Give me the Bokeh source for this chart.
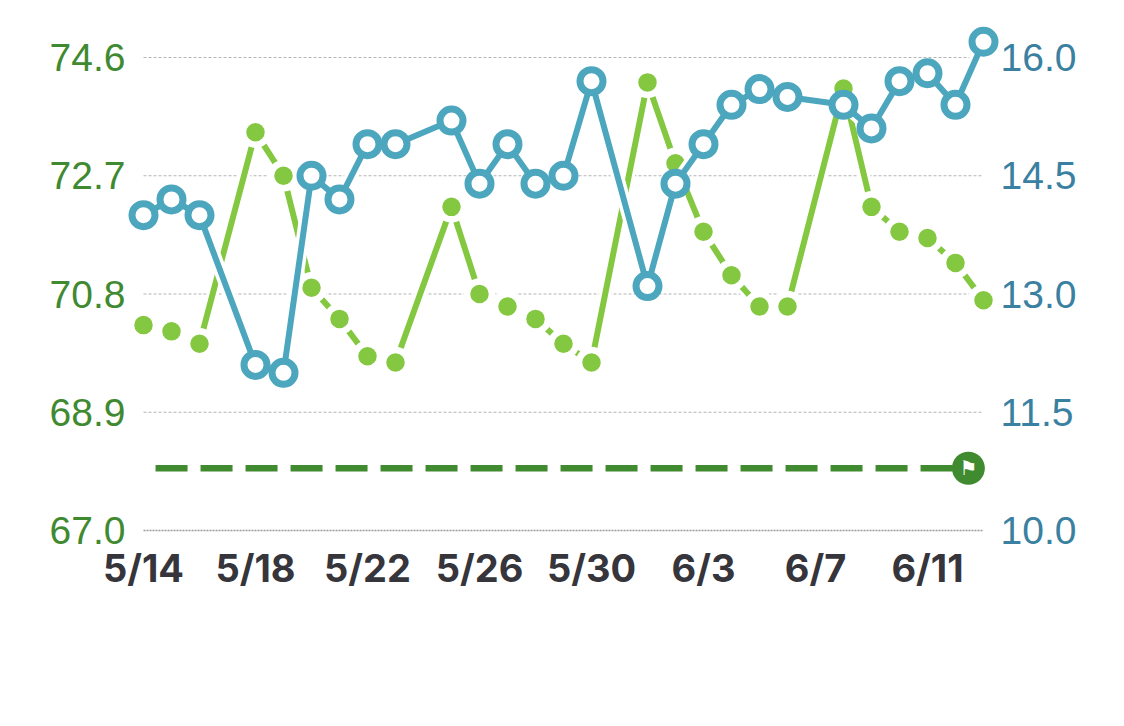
import pandas as pd
from bokeh.plotting import figure
from bokeh.models import Range1d, LinearAxis, FixedTicker, ColumnDataSource
from bokeh.core.properties import value
from bokeh.embed import file_html
from bokeh.resources import INLINE

# ---------------- data ----------------
dates = ["5/14", "5/15", "5/16", "5/18", "5/19", "5/20", "5/21", "5/22", "5/23",
         "5/25", "5/26", "5/27", "5/28", "5/29", "5/30", "6/1", "6/2", "6/3",
         "6/4", "6/5", "6/6", "6/8", "6/9", "6/10", "6/11", "6/12", "6/13"]
green_vals = [70.3, 70.2, 70.0, 73.4, 72.7, 70.9, 70.4, 69.8, 69.7,
              72.2, 70.8, 70.6, 70.4, 70.0, 69.7, 74.2, 72.9, 71.8,
              71.1, 70.6, 70.6, 74.1, 72.2, 71.8, 71.7, 71.3, 70.7]
blue_vals = [14.0, 14.2, 14.0, 12.1, 12.0, 14.5, 14.2, 14.9, 14.9,
             15.2, 14.4, 14.9, 14.4, 14.5, 15.7, 13.1, 14.4, 14.9,
             15.4, 15.6, 15.5, 15.4, 15.1, 15.7, 15.8, 15.4, 16.2]
goal_value = 68.0
x_tick_labels = ["5/14", "5/18", "5/22", "5/26", "5/30", "6/3", "6/7", "6/11"]
left_ticks = [67.0, 68.9, 70.8, 72.7, 74.6]
right_ticks = [10.0, 11.5, 13.0, 14.5, 16.0]

# ---------------- helpers ----------------
def to_day(s):
    return (pd.Timestamp("2024/" + s) - pd.Timestamp("2024/" + dates[0])).days

days = [to_day(d) for d in dates]
tick_days = [to_day(t) for t in x_tick_labels]

GREEN_LINE = "#84c841"
BLUE_LINE = "#4ba6be"
GREEN_TEXT = "#3f8a31"
BLUE_TEXT = "#3a80a1"
GOAL = "#408a2f"

# frame geometry (28 px per day)
PX_DAY = 28.0
x0 = -17 / PX_DAY
x1 = x0 + 873 / PX_DAY
lpx = 473.0 / (left_ticks[-1] - left_ticks[0])
rpx = 473.0 / (right_ticks[-1] - right_ticks[0])
yl0 = left_ticks[0] - 3 / lpx
yl1 = left_ticks[0] + 507 / lpx
yr0 = right_ticks[0] - 3 / rpx
yr1 = right_ticks[0] + 507 / rpx

p = figure(frame_width=873, frame_height=510,
           x_range=Range1d(x0, x1), y_range=Range1d(yl0, yl1),
           output_backend="svg", toolbar_location=None,
           min_border_left=126, min_border_right=100,
           min_border_top=23, min_border_bottom=165)
p.extra_y_ranges = {"r": Range1d(yr0, yr1)}
p.outline_line_color = None
p.xgrid.visible = False
p.ygrid.visible = False
p.background_fill_color = "white"
p.border_fill_color = "white"

# grid lines
p.segment(x0=[days[0]] * 4, x1=[days[-1]] * 4, y0=left_ticks[1:], y1=left_ticks[1:],
          line_color="#b4b4b4", line_width=1.2, line_dash="3 2")
p.segment(x0=[days[0]], x1=[days[-1]], y0=left_ticks[:1], y1=left_ticks[:1],
          line_color="#9a9a9a", line_width=1.6, line_dash="2 1")

# goal line
p.line(x=[days[0] + 0.43, days[-1] - 0.54], y=[goal_value, goal_value],
       line_color=GOAL, line_width=6.5, line_dash="32 13")
p.scatter(x=[days[-1] - 0.54], y=[goal_value], size=33, fill_color=GOAL, line_color=None)
p.text(x=[days[-1] - 0.54], y=[goal_value], text=["\u2691"], text_color="white",
       text_font=value("DejaVu Sans"), text_font_size="20px",
       text_align="center", text_baseline="middle")

src = ColumnDataSource(dict(x=days, g=green_vals, b=blue_vals))

# green series
p.line("x", "g", source=src, line_color="white", line_width=12)
p.line("x", "g", source=src, line_color=GREEN_LINE, line_width=6)
p.scatter("x", "g", source=src, size=25, fill_color=GREEN_LINE,
          line_color="white", line_width=6.5)

# blue series (right axis)
p.line("x", "b", source=src, y_range_name="r", line_color="white", line_width=13)
p.line("x", "b", source=src, y_range_name="r", line_color=BLUE_LINE, line_width=6)
p.scatter("x", "b", source=src, y_range_name="r", size=23, fill_color="white",
          line_color=BLUE_LINE, line_width=7)

# axes
ya = p.yaxis[0]
ya.ticker = FixedTicker(ticks=left_ticks)
ya.major_label_overrides = {t: f"{t:.1f}" for t in left_ticks}
ya.axis_line_color = None
ya.major_tick_line_color = None
ya.minor_tick_line_color = None
ya.major_tick_out = 0
ya.major_tick_in = 0
ya.major_label_standoff = 1
ya.major_label_text_font = "Liberation Sans"
ya.major_label_text_font_size = "39px"
ya.major_label_text_color = GREEN_TEXT

ra = LinearAxis(y_range_name="r", ticker=FixedTicker(ticks=right_ticks))
ra.major_label_overrides = {t: f"{t:.1f}" for t in right_ticks}
ra.axis_line_color = None
ra.major_tick_line_color = None
ra.minor_tick_line_color = None
ra.major_tick_out = 0
ra.major_tick_in = 0
ra.major_label_standoff = 1
ra.major_label_text_font = "Liberation Sans"
ra.major_label_text_font_size = "39px"
ra.major_label_text_color = BLUE_TEXT
p.add_layout(ra, "right")

xa = p.xaxis[0]
xa.ticker = FixedTicker(ticks=tick_days)
xa.major_label_overrides = {d: l for d, l in zip(tick_days, x_tick_labels)}
xa.axis_line_color = None
xa.major_tick_line_color = None
xa.minor_tick_line_color = None
xa.major_tick_out = 0
xa.major_tick_in = 0
xa.major_label_standoff = 11
xa.major_label_text_font = "Inter"
xa.major_label_text_font_style = "bold"
xa.major_label_text_font_size = "38px"
xa.major_label_text_color = "#35353b"

open("out.html", "w").write(file_html(p, INLINE))
